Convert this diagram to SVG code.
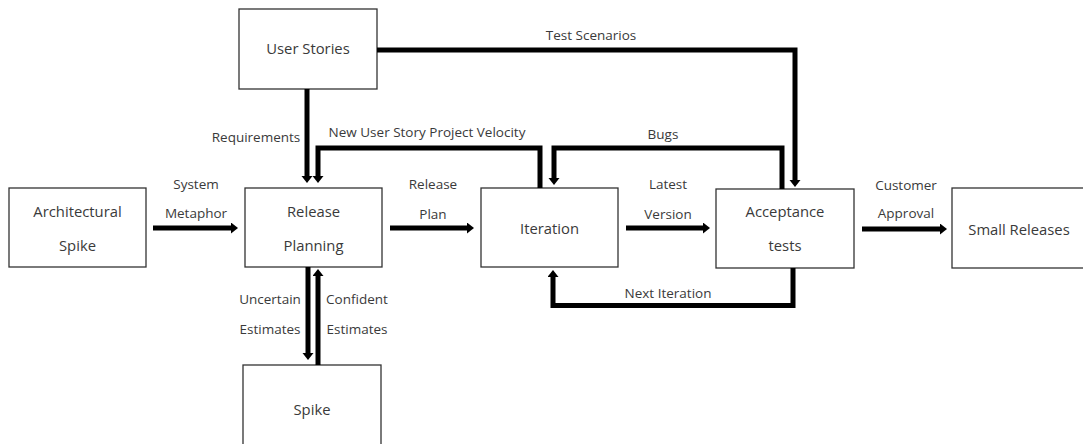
<svg xmlns="http://www.w3.org/2000/svg" width="1083" height="444" viewBox="0 0 1083 444">
  <style>
    .box { fill: #ffffff; stroke: #333333; stroke-width: 1.3; }
    .txt { font-family: "Open Sans", "Noto Sans", sans-serif; font-size: 14.8px; fill: #3a3a3a; text-anchor: middle; }
    .lbl { font-family: "Open Sans", "Noto Sans", sans-serif; font-size: 13.5px; fill: #3a3a3a; text-anchor: middle; }
    .flow { fill: none; stroke: #000000; stroke-width: 5; stroke-linejoin: miter; }
  </style>
  <defs>
    <marker id="head" markerUnits="userSpaceOnUse" markerWidth="8" markerHeight="12" refX="0" refY="5.5" orient="auto">
      <path d="M0,0 L7,5.5 L0,11 Z" fill="#000000"/>
    </marker>
  </defs>

  <rect width="1083" height="444" fill="#ffffff"/>

  <!-- process steps -->
  <g id="user-stories">
    <rect class="box" x="239" y="9" width="138" height="80"/>
    <text class="txt" x="308" y="54">User Stories</text>
  </g>
  <g id="architectural-spike">
    <rect class="box" x="9" y="188" width="137" height="79"/>
    <text class="txt" x="77.5" y="217">Architectural</text>
    <text class="txt" x="77.5" y="251">Spike</text>
  </g>
  <g id="release-planning">
    <rect class="box" x="245" y="188" width="137" height="79"/>
    <text class="txt" x="313.5" y="217">Release</text>
    <text class="txt" x="313.5" y="251">Planning</text>
  </g>
  <g id="iteration">
    <rect class="box" x="481" y="188" width="137" height="79"/>
    <text class="txt" x="549.5" y="234">Iteration</text>
  </g>
  <g id="acceptance-tests">
    <rect class="box" x="716" y="189" width="138" height="79"/>
    <text class="txt" x="785" y="217">Acceptance</text>
    <text class="txt" x="785" y="251">tests</text>
  </g>
  <g id="small-releases">
    <rect class="box" x="952" y="188" width="140" height="80"/>
    <text class="txt" x="1019" y="235">Small Releases</text>
  </g>
  <g id="spike">
    <rect class="box" x="243" y="365" width="138" height="90"/>
    <text class="txt" x="312" y="415">Spike</text>
  </g>

  <!-- flows between steps -->
  <g id="connectors">
    <path class="flow" d="M153,228 H231" marker-end="url(#head)"/>
    <path class="flow" d="M390,228 H467" marker-end="url(#head)"/>
    <path class="flow" d="M626,228 H703" marker-end="url(#head)"/>
    <path class="flow" d="M862,229 H940" marker-end="url(#head)"/>
    <path class="flow" d="M307,89 V176" marker-end="url(#head)"/>
    <path class="flow" d="M540,188 V148 H318 V176" marker-end="url(#head)"/>
    <path class="flow" d="M377,50 H795 V180" marker-end="url(#head)"/>
    <path class="flow" d="M782,189 V148 H554 V178" marker-end="url(#head)"/>
    <path class="flow" d="M793,268 V305.5 H553 V277" marker-end="url(#head)"/>
    <path class="flow" d="M308,267 V353" marker-end="url(#head)"/>
    <path class="flow" d="M318,365 V276" marker-end="url(#head)"/>

    <text class="lbl" x="256" y="142">Requirements</text>
    <text class="lbl" x="427" y="137">New User Story Project Velocity</text>
    <text class="lbl" x="591" y="40">Test Scenarios</text>
    <text class="lbl" x="663" y="139">Bugs</text>
    <text class="lbl" x="196" y="189">System</text>
    <text class="lbl" x="196" y="218">Metaphor</text>
    <text class="lbl" x="433" y="189">Release</text>
    <text class="lbl" x="433" y="219">Plan</text>
    <text class="lbl" x="668" y="189">Latest</text>
    <text class="lbl" x="668" y="219">Version</text>
    <text class="lbl" x="906" y="190">Customer</text>
    <text class="lbl" x="906" y="218">Approval</text>
    <text class="lbl" x="668" y="298">Next Iteration</text>
    <text class="lbl" x="270" y="304">Uncertain</text>
    <text class="lbl" x="270" y="334">Estimates</text>
    <text class="lbl" x="357" y="304">Confident</text>
    <text class="lbl" x="357" y="334">Estimates</text>
  </g>
</svg>
